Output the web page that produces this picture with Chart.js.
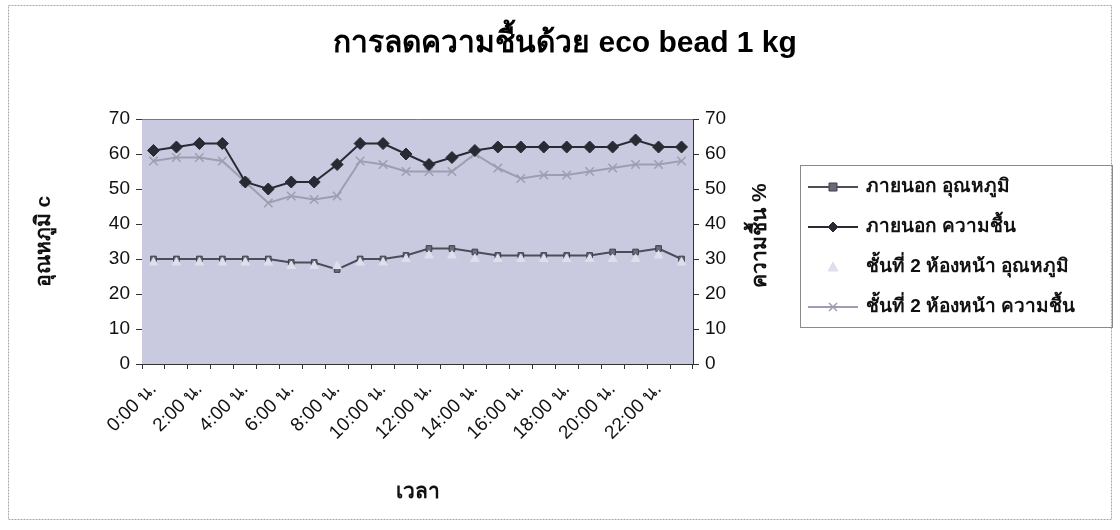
<!DOCTYPE html>
<html>
<head>
<meta charset="utf-8">
<script src="https://cdn.jsdelivr.net/npm/chart.js@4.4.1/dist/chart.umd.min.js"></script>
<style>
  html, body { margin: 0; padding: 0; background: #ffffff; }
  #wrap { width: 1120px; height: 530px; }
</style>
</head>
<body>
<div id="wrap"><canvas id="c" width="1120" height="530"></canvas></div>
<script>
// Hourly readings over one day
const hours = [
  '0:00 น.', '1:00 น.', '2:00 น.', '3:00 น.', '4:00 น.', '5:00 น.',
  '6:00 น.', '7:00 น.', '8:00 น.', '9:00 น.', '10:00 น.', '11:00 น.',
  '12:00 น.', '13:00 น.', '14:00 น.', '15:00 น.', '16:00 น.', '17:00 น.',
  '18:00 น.', '19:00 น.', '20:00 น.', '21:00 น.', '22:00 น.', '23:00 น.'
];
const outsideTemp     = [30, 30, 30, 30, 30, 30, 29, 29, 27, 30, 30, 31, 33, 33, 32, 31, 31, 31, 31, 31, 32, 32, 33, 30];
const outsideHumidity = [61, 62, 63, 63, 52, 50, 52, 52, 57, 63, 63, 60, 57, 59, 61, 62, 62, 62, 62, 62, 62, 64, 62, 62];
const room2Temp       = [29, 29, 29, 29, 29, 29, 28, 28, 28, 29, 29, 30, 31, 31, 30, 30, 30, 30, 30, 30, 30, 30, 31, 29];
const room2Humidity   = [58, 59, 59, 58, 52, 46, 48, 47, 48, 58, 57, 55, 55, 55, 60, 56, 53, 54, 54, 55, 56, 57, 57, 58];
const axisTicks = [0, 10, 20, 30, 40, 50, 60, 70];

const FONT = "'Liberation Sans', Arial, 'Noto Sans', sans-serif";
const PLOT_BG = '#c9cadf';
// the right axis box also reserves the strip that holds the legend
const RIGHT_TICK_STRIP = 91;
const LEGEND_STRIP = 336;
const RIGHT_TITLE = 'ความชื้น %';
const TITLE_FONT = 'bold 21px ' + FONT;

// Marker shapes shared by the legend symbols
function drawMarker(g, style, cx, cy, fill, stroke) {
  const r = 4;
  g.fillStyle = fill;
  g.strokeStyle = stroke;
  g.lineWidth = 1;
  g.beginPath();
  switch (style) {
    case 'rect':
      g.rect(cx - r, cy - r, 2 * r, 2 * r); g.fill(); g.stroke(); break;
    case 'rectRot':
      g.moveTo(cx, cy - r - 1); g.lineTo(cx + r + 1, cy); g.lineTo(cx, cy + r + 1); g.lineTo(cx - r - 1, cy);
      g.closePath(); g.fill(); g.stroke(); break;
    case 'triangle':
      g.moveTo(cx, cy - r - 1); g.lineTo(cx + r + 1, cy + r); g.lineTo(cx - r - 1, cy + r);
      g.closePath(); g.fill(); g.stroke(); break;
    case 'crossRot':
      g.lineWidth = 1.5;
      g.moveTo(cx - r, cy - r); g.lineTo(cx + r, cy + r);
      g.moveTo(cx + r, cy - r); g.lineTo(cx - r, cy + r); g.stroke(); break;
  }
}

// Plot-area fill, right-hand axis title, boxed legend and outer frame
const framePlugin = {
  id: 'frames',
  beforeDatasetsDraw(chart) {
    const { ctx, chartArea: a } = chart;
    ctx.save();
    ctx.fillStyle = PLOT_BG;
    ctx.fillRect(a.left, a.top, a.right - a.left, a.bottom - a.top);
    ctx.strokeStyle = '#7a7a86';
    ctx.lineWidth = 1;
    ctx.beginPath();
    ctx.moveTo(a.left, a.top + 0.5); ctx.lineTo(a.right, a.top + 0.5);
    ctx.stroke();
    ctx.restore();
  },
  afterDraw(chart) {
    const { ctx, chartArea: a } = chart;
    ctx.save();

    // outer frame
    ctx.strokeStyle = '#a8a8a8';
    ctx.lineWidth = 1;
    ctx.setLineDash([2, 1]);
    ctx.strokeRect(8.5, 5.5, 1103, 514);
    ctx.setLineDash([]);

    // right axis title, reading bottom to top
    ctx.save();
    ctx.translate(a.right + 67, (a.top + a.bottom) / 2 - 6);
    ctx.rotate(-Math.PI / 2);
    ctx.font = TITLE_FONT;
    ctx.fillStyle = '#111';
    ctx.textAlign = 'center';
    ctx.textBaseline = 'middle';
    ctx.fillText(RIGHT_TITLE, 0, 0);
    ctx.restore();

    // legend
    const boxL = a.right + RIGHT_TICK_STRIP + 16;
    const boxT = a.top + 46;
    const boxW = 312, rowH = 40;
    const dsList = chart.data.datasets;
    const boxH = rowH * dsList.length + 2;
    ctx.strokeStyle = '#8a8a8a';
    ctx.lineWidth = 1;
    ctx.strokeRect(Math.round(boxL) + 0.5, Math.round(boxT) + 0.5, boxW, boxH);
    ctx.font = 'bold 19px ' + FONT;
    ctx.textAlign = 'left';
    ctx.textBaseline = 'middle';
    dsList.forEach((ds, i) => {
      const cy = boxT + 22 + i * rowH;
      const x0 = boxL + 8, x1 = x0 + 50;
      if (ds.showLine !== false) {
        ctx.strokeStyle = ds.borderColor;
        ctx.lineWidth = ds.borderWidth;
        ctx.beginPath(); ctx.moveTo(x0, cy); ctx.lineTo(x1, cy); ctx.stroke();
      }
      drawMarker(ctx, ds.pointStyle, (x0 + x1) / 2, cy, ds.pointBackgroundColor, ds.pointBorderColor);
      ctx.fillStyle = '#111';
      ctx.fillText(ds.label, x1 + 8, cy);
    });
    ctx.restore();
  }
};

const datasets = [
  {
    label: 'ภายนอก อุณหภูมิ',
    data: outsideTemp,
    yAxisID: 'y',
    borderColor: '#4c4c5a',
    borderWidth: 2,
    pointStyle: 'rect',
    pointRadius: 4,
    pointBackgroundColor: '#6a6a7a',
    pointBorderColor: '#3e3e4a',
    pointBorderWidth: 1,
    order: 2
  },
  {
    label: 'ภายนอก ความชื้น',
    data: outsideHumidity,
    yAxisID: 'y1',
    borderColor: '#2a2a34',
    borderWidth: 2,
    pointStyle: 'rectRot',
    pointRadius: 6,
    pointBackgroundColor: '#2a2a34',
    pointBorderColor: '#2a2a34',
    pointBorderWidth: 1,
    order: 1
  },
  {
    label: 'ชั้นที่ 2 ห้องหน้า อุณหภูมิ',
    data: room2Temp,
    yAxisID: 'y',
    showLine: false,
    borderColor: '#dedeec',
    borderWidth: 0,
    pointStyle: 'triangle',
    pointRadius: 5,
    pointBackgroundColor: '#dedeec',
    pointBorderColor: '#dedeec',
    pointBorderWidth: 1,
    order: 0
  },
  {
    label: 'ชั้นที่ 2 ห้องหน้า ความชื้น',
    data: room2Humidity,
    yAxisID: 'y1',
    borderColor: '#9e9eb2',
    borderWidth: 2,
    pointStyle: 'crossRot',
    pointRadius: 6,
    pointBackgroundColor: '#9e9eb2',
    pointBorderColor: '#9e9eb2',
    pointBorderWidth: 1.5,
    order: 3
  }
];

function valueAxis(position, title, titlePad, width) {
  return {
    type: 'linear',
    position: position,
    min: axisTicks[0],
    max: axisTicks[axisTicks.length - 1],
    afterBuildTicks(scale) { scale.ticks = axisTicks.map(v => ({ value: v })); },
    afterFit(scale) { scale.width = width; },
    border: { display: true, color: '#333', width: 1 },
    grid: { drawOnChartArea: false, drawTicks: true, tickLength: 6, color: '#333' },
    ticks: { color: '#111', font: { family: FONT, size: 19 }, padding: 6 },
    title: {
      display: !!title, text: title, color: '#111',
      font: { family: FONT, size: 21, weight: 'bold' },
      padding: { top: titlePad, bottom: 0 }
    }
  };
}

new Chart(document.getElementById('c'), {
  type: 'line',
  data: { labels: hours, datasets: datasets },
  plugins: [framePlugin],
  options: {
    responsive: false,
    animation: false,
    devicePixelRatio: 1,
    layout: { padding: { left: 10, right: 0, top: 0, bottom: 8 } },
    elements: { line: { tension: 0 } },
    scales: {
      x: {
        type: 'category',
        offset: true,
        afterFit(scale) { scale.height = 158; },
        border: { display: true, color: '#333', width: 1 },
        grid: { offset: true, drawOnChartArea: false, tickLength: 5, color: '#333' },
        ticks: {
          autoSkip: false, minRotation: 45, maxRotation: 45,
          color: '#111', font: { family: FONT, size: 19 }, padding: 9,
          callback: (v, i) => (i % 2 === 0 ? hours[i] : '')
        },
        title: {
          display: true, text: 'เวลา', color: '#111',
          font: { family: FONT, size: 21, weight: 'bold' },
          padding: { top: 0, bottom: 17 }
        }
      },
      y: valueAxis('left', 'อุณหภูมิ c', 22, 132),
      y1: valueAxis('right', '', 0, RIGHT_TICK_STRIP + LEGEND_STRIP)
    },
    plugins: {
      tooltip: { enabled: false },
      legend: { display: false },
      title: {
        display: true,
        text: 'การลดความชื้นด้วย eco bead 1 kg',
        color: '#000',
        font: { family: FONT, size: 30, weight: 'bold' },
        padding: { top: 26, bottom: 57 }
      }
    }
  }
});
</script>
</body>
</html>
